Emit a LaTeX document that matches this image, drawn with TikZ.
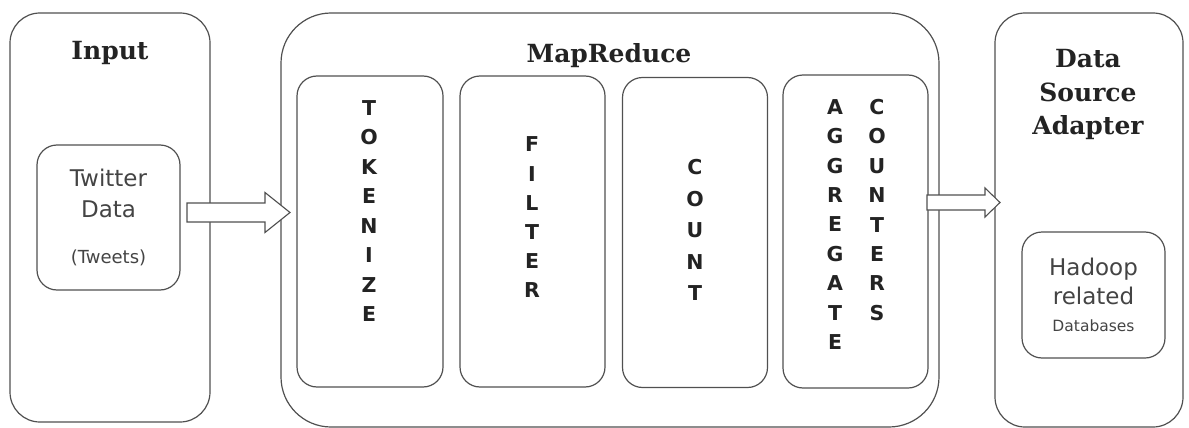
\documentclass[tikz,border=0pt]{standalone}
\usepackage{fontspec}
\setmainfont{DejaVu Sans}
\newfontfamily\headfont{DejaVu Serif}
\usetikzlibrary{calc}

\definecolor{edgegray}{RGB}{80,80,80}
\definecolor{inkgray}{RGB}{35,35,35}

\tikzset{
    panel/.style={draw=edgegray, line width=1.2pt, rounded corners=#1, inner sep=0pt},
    panel/.default=30pt,
    stage/.style={panel=20pt},
    heading/.style={font=\headfont\bfseries\fontsize{25}{33.5}\selectfont, text=inkgray, align=center, inner sep=0pt},
    boxtext/.style={font=\fontsize{23}{31}\selectfont, text=inkgray!85, align=center},
    vletters/.style={font=\bfseries\fontsize{20.5}{#1}\selectfont, text=inkgray, align=center, inner sep=0pt},
    vletters/.default=29.5,
    blockarrow/.style n args={3}{draw=edgegray, line width=1.1pt, fill=white,
        to path={let \p1=(\tikztostart), \p2=(\tikztotarget) in
            (\x1,\y1+#1) -- (\x2-#3,\y1+#1) -- (\x2-#3,\y1+#2) -- (\x2,\y1)
            -- (\x2-#3,\y1-#2) -- (\x2-#3,\y1-#1) -- (\x1,\y1-#1) -- cycle}}
}

\begin{document}
\begin{tikzpicture}[x=1pt, y=-1pt]
    \useasboundingbox (0,0) rectangle (1189,428);

    % input side
    \node[panel, minimum width=200pt, minimum height=409pt] (input) at (110,217.5) {};
    \node[heading] (inputt) at (110,53) {Input};
    \node[stage, boxtext, minimum width=143pt, minimum height=145pt] (tw) at (108.5,217.5)
        {Twitter\\Data\\[15pt]{\fontsize{18}{20}\selectfont (Tweets)}};

    % mapreduce
    \node[panel=50pt, minimum width=658pt, minimum height=414pt] (mr) at (610,220) {};
    \node[heading] (mrt) at (609,56) {MapReduce};
    \node[stage, minimum width=146pt, minimum height=311pt] (tok) at (370,231.5) {};
    \node[stage, minimum width=145pt, minimum height=311pt] (fil) at (532.5,231.5) {};
    \node[stage, minimum width=145pt, minimum height=310pt] (cnt) at (695,232.5) {};
    \node[stage, minimum width=145pt, minimum height=313pt] (agg) at (855.5,231.5) {};

    \node[vletters] (tokt) at (369,211) {T\\O\\K\\E\\N\\I\\Z\\E};
    \node[vletters=29.2] (filt) at (532,217.5) {F\\I\\L\\T\\E\\R};
    \node[vletters=31.6] (cntt) at (695,230) {C\\O\\U\\N\\T};
    \node[vletters=29.4] (aggt) at (835,224.5) {A\\G\\G\\R\\E\\G\\A\\T\\E};
    \node[vletters=29.4] (ctrt) at (877,210) {C\\O\\U\\N\\T\\E\\R\\S};

    % output side
    \node[panel, minimum width=188pt, minimum height=414pt] (dsa) at (1089,220) {};
    \node[heading] (dsat) at (1088,94.5) {Data\\Source\\Adapter};
    \node[stage, boxtext, minimum width=143pt, minimum height=126pt] (hdp) at (1093.5,295)
        {Hadoop\\[-2pt]related\\[-4pt]{\fontsize{15.5}{18}\selectfont Databases}};

    % block arrows
    \coordinate (a1s) at (187,212.5);
    \coordinate (a1e) at (290,212.5);
    \coordinate (a2s) at (927,202.5);
    \coordinate (a2e) at (1000,202.5);
    \draw[blockarrow={9.5}{20}{25}] (a1s) to (a1e);
    \draw[blockarrow={7.5}{14.5}{15}] (a2s) to (a2e);
\end{tikzpicture}
\end{document}
